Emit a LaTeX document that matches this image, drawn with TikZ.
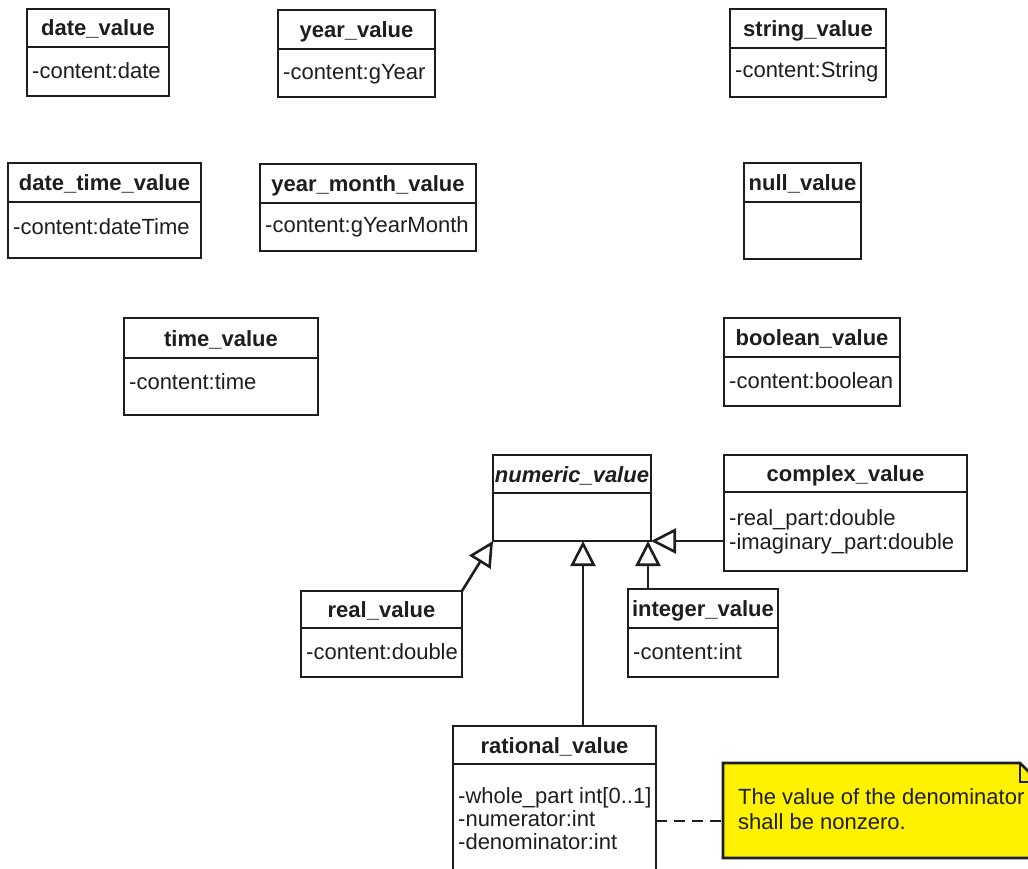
\documentclass[tikz,border=0pt]{standalone}
\usepackage{fontspec}
\setmainfont{Liberation Sans}
\usetikzlibrary{arrows.meta}

\definecolor{ink}{HTML}{1E1E1E}
\definecolor{noteyellow}{HTML}{FFF200}

\tikzset{
  classbox/.style={draw=ink, line width=2.6pt, fill=white, inner sep=0pt, outer sep=0pt},
  boxline/.style={draw=ink, line width=2.6pt},
  titletext/.style={anchor=base, inner sep=0pt, text=ink,
    font=\fontsize{22}{24}\selectfont\bfseries},
  attrtext/.style={anchor=base west, inner sep=0pt, text=ink,
    font=\fontsize{22}{24}\selectfont},
  gen/.style={draw=ink, line width=2.6pt,
    -{Triangle[open, length=25pt, width=25pt, fill=white]}},
  notelink/.style={draw=ink, line width=2.6pt, dash pattern=on 11pt off 7pt},
  notebox/.style={draw=ink, line width=2.6pt, fill=noteyellow, line join=miter},
}

% UML class: name, left, top, right, divider, bottom, title
\newcommand{\umlclass}[7]{%
  \node[classbox, minimum width={#4-#2}, minimum height={#6-#3},
        anchor=north west] (#1) at (#2,#3) {};
  \draw[boxline] (#2,#5) -- (#4,#5);
  \node[titletext] (#1-title) at ({(#2+#4)/2},{(#3+#5)/2+8}) {#7};
}

\begin{document}
\begin{tikzpicture}[x=1pt, y=-1pt]
\useasboundingbox (0,0) rectangle (1028,869);
\clip (0,0) rectangle (1028,869);
\fill[white] (0,0) rectangle (1028,869);

% temporal value classes
\umlclass{date}{27}{9}{169}{47}{96}{date\_value}
\node[attrtext] (date-a1) at (32,79) {-content:date};

\umlclass{year}{278}{10}{435}{49}{97}{year\_value}
\node[attrtext] (year-a1) at (283,80) {-content:gYear};

\umlclass{datetime}{8}{163}{201}{202}{258}{date\_time\_value}
\node[attrtext] (datetime-a1) at (13,235) {-content:dateTime};

\umlclass{yearmonth}{260}{164}{476}{203}{251}{year\_month\_value}
\node[attrtext] (yearmonth-a1) at (265,233) {-content:gYearMonth};

\umlclass{time}{124}{318}{318}{358}{415}{time\_value}
\node[attrtext] (time-a1) at (129,389) {-content:time};

% other simple value classes
\umlclass{string}{730}{9}{886}{48}{97}{string\_value}
\node[attrtext] (string-a1) at (735,78) {-content:String};

\umlclass{null}{744}{163}{861}{202}{259}{null\_value}

\umlclass{boolean}{724}{318}{900}{357}{406}{boolean\_value}
\node[attrtext] (boolean-a1) at (729,388) {-content:boolean};

% numeric hierarchy
\umlclass{numeric}{493}{455}{651}{493}{541}{\textit{numeric\_value}}

\umlclass{complex}{724}{455}{967}{492}{571}{complex\_value}
\node[attrtext] (complex-a1) at (729,525) {-real\_part:double};
\node[attrtext] (complex-a2) at (729,549) {-imaginary\_part:double};

\umlclass{real}{301}{591}{462}{628}{677}{real\_value}
\node[attrtext] (real-a1) at (306,659) {-content:double};

\umlclass{integer}{628}{589}{778}{628}{677}{integer\_value}
\node[attrtext] (integer-a1) at (633,659) {-content:int};

\umlclass{rational}{453}{726}{656}{764}{885}{rational\_value}
\node[attrtext] (rational-a1) at (458,803) {-whole\_part int[0..1]};
\node[attrtext] (rational-a2) at (458,826) {-numerator:int};
\node[attrtext] (rational-a3) at (458,849) {-denominator:int};

% constraint note
\node[inner sep=0pt, outer sep=0pt, minimum width=316, minimum height=95,
      anchor=north west] (note) at (723,763) {};
\draw[notebox] (note.north west) -- ([xshift=-19pt]note.north east)
  -- ([yshift=-19pt]note.north east) -- (note.south east)
  -- (note.south west) -- cycle;
\draw[boxline, line join=miter] ([xshift=-19pt]note.north east)
  -- ([xshift=-19pt, yshift=-19pt]note.north east)
  -- ([yshift=-19pt]note.north east);
\node[attrtext] (note-l1) at (738,804) {The value of the denominator};
\node[attrtext] (note-l2) at (738,829) {shall be nonzero.};

% generalisations
\coordinate (ratx) at (583,0);
\coordinate (intx) at (648,0);
\coordinate (linky) at (0,821);
\draw[gen] (real.north east) -- (numeric.south west);
\draw[gen] (rational.north -| ratx) -- (numeric.south -| ratx);
\draw[gen] (integer.north -| intx) -- (numeric.south -| intx);
\draw[gen] (complex.west |- numeric.south) -- (numeric.south east);

% note anchor line
\draw[notelink] (rational.east |- linky) -- (note.west |- linky);
\end{tikzpicture}
\end{document}
